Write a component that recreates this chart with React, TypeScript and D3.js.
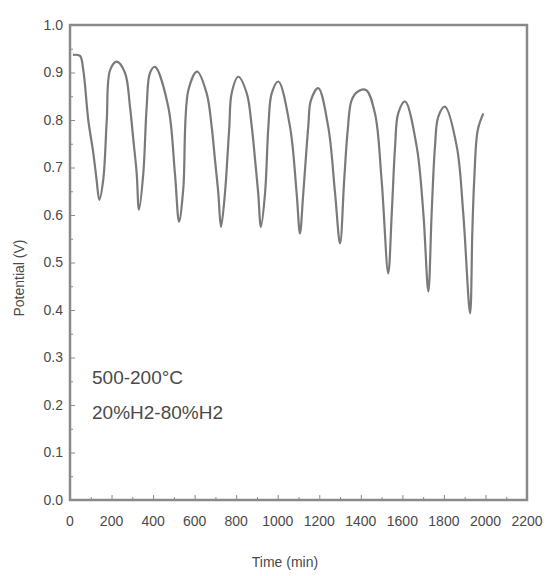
import React, { useRef, useEffect } from "react";
import * as d3 from "d3";

const WIDTH = 547;
const HEIGHT = 576;
const MARGIN = { top: 25, right: 20, bottom: 76, left: 70 };

// time (min)
const TIME = [
  14, 48, 64, 88, 112, 128, 141, 160, 177, 193, 225,
  265, 289, 305, 321, 332, 353, 369, 385, 409, 473,
  505, 525, 545, 570, 612, 658, 682, 698, 714, 727,
  746, 757, 767, 778, 810, 851, 875, 891, 906, 919,
  939, 955, 971, 1003, 1059, 1091, 1107, 1123, 1147, 1160,
  1195, 1243, 1276, 1300, 1320, 1337, 1356, 1386, 1425, 1468,
  1500, 1532, 1549, 1565, 1580, 1613, 1669, 1701, 1725,
  1741, 1757, 1773, 1805, 1862, 1893, 1926, 1937, 1946,
  1963, 1990,
];

// potential (V) at those times
const POTENTIAL = [
  0.937, 0.935, 0.905, 0.8, 0.731, 0.674, 0.632, 0.674, 0.8, 0.905, 0.923,
  0.899, 0.827, 0.758, 0.688, 0.611, 0.688, 0.827, 0.899, 0.912, 0.828,
  0.688, 0.586, 0.653, 0.863, 0.902, 0.856, 0.786, 0.716, 0.646, 0.575,
  0.646, 0.716, 0.786, 0.856, 0.891, 0.856, 0.786, 0.716, 0.646, 0.575,
  0.646, 0.786, 0.856, 0.881, 0.786, 0.646, 0.561, 0.646, 0.786, 0.842,
  0.867, 0.786, 0.646, 0.540, 0.674, 0.779, 0.842, 0.86, 0.863, 0.814,
  0.674, 0.477, 0.604, 0.744, 0.814, 0.839, 0.744, 0.604, 0.439,
  0.604, 0.744, 0.807, 0.828, 0.744, 0.604, 0.393, 0.568, 0.674,
  0.779, 0.814,
];

const X_TICKS = [0, 200, 400, 600, 800, 1000, 1200, 1400, 1600, 1800, 2000, 2200];
const Y_TICKS = [0.0, 0.1, 0.2, 0.3, 0.4, 0.5, 0.6, 0.7, 0.8, 0.9, 1.0];
const NOTES = ["500-200°C", "20%H2-80%H2"];

const AXIS_COLOR = "#8a8a8a";
const LINE_COLOR = "#7a7a7a";
const TEXT_COLOR = "#4a4a4a";
const FONT = "'Liberation Sans', Arial, sans-serif";

export default function App() {
  const svgRef = useRef<SVGSVGElement | null>(null);

  useEffect(() => {
    const svg = d3.select(svgRef.current);
    svg.selectAll("*").remove();

    const innerW = WIDTH - MARGIN.left - MARGIN.right;
    const innerH = HEIGHT - MARGIN.top - MARGIN.bottom;

    const x = d3.scaleLinear().domain([0, 2200]).range([0, innerW]);
    const y = d3.scaleLinear().domain([0, 1]).range([innerH, 0]);

    svg.append("rect").attr("width", WIDTH).attr("height", HEIGHT).attr("fill", "#fff");

    const g = svg
      .append("g")
      .attr("transform", `translate(${MARGIN.left},${MARGIN.top})`);

    // trace
    const pts: [number, number][] = TIME.map((t, i) => [t, POTENTIAL[i]]);
    const line = d3
      .line<[number, number]>()
      .x((d) => x(d[0]))
      .y((d) => y(d[1]))
      .curve(d3.curveCatmullRom.alpha(0.5));
    g.append("path")
      .datum(pts)
      .attr("d", line)
      .attr("fill", "none")
      .attr("stroke", LINE_COLOR)
      .attr("stroke-width", 2.2)
      .attr("stroke-linejoin", "round");

    // inward ticks, major + minor
    const xAxis = g
      .append("g")
      .attr("transform", `translate(0,${innerH})`)
      .call(
        d3.axisTop(x).tickValues(d3.range(0, 2201, 100)).tickSize(4).tickFormat(() => "")
      );
    xAxis.selectAll(".tick line").attr("stroke", AXIS_COLOR)
      .attr("y2", (d: any) => (d % 200 === 0 ? -5 : -3));
    xAxis.select(".domain").remove();

    const yAxis = g
      .append("g")
      .call(
        d3.axisRight(y).tickValues(d3.range(0, 1.001, 0.05)).tickSize(4).tickFormat(() => "")
      );
    yAxis.selectAll(".tick line").attr("stroke", AXIS_COLOR)
      .attr("x2", (_d: any, i: number) => (i % 2 === 0 ? 5 : 3));
    yAxis.select(".domain").remove();

    // frame
    g.append("rect")
      .attr("width", innerW)
      .attr("height", innerH)
      .attr("fill", "none")
      .attr("stroke", AXIS_COLOR)
      .attr("stroke-width", 2.5);

    // tick labels
    g.selectAll(".xl")
      .data(X_TICKS)
      .join("text")
      .attr("x", (d) => x(d))
      .attr("y", innerH + 26)
      .attr("text-anchor", "middle")
      .attr("font-size", 14)
      .attr("font-family", FONT)
      .attr("fill", TEXT_COLOR)
      .text((d) => String(d));

    g.selectAll(".yl")
      .data(Y_TICKS)
      .join("text")
      .attr("x", -7)
      .attr("y", (d) => y(d))
      .attr("dy", "0.35em")
      .attr("text-anchor", "end")
      .attr("font-size", 14)
      .attr("font-family", FONT)
      .attr("fill", TEXT_COLOR)
      .text((d) => d.toFixed(1));

    // axis titles
    svg.append("text")
      .attr("x", 285)
      .attr("y", 567)
      .attr("text-anchor", "middle")
      .attr("font-size", 14)
      .attr("font-family", FONT)
      .attr("fill", TEXT_COLOR)
      .text("Time (min)");

    svg.append("text")
      .attr("transform", "translate(24,278) rotate(-90)")
      .attr("text-anchor", "middle")
      .attr("font-size", 14)
      .attr("font-family", FONT)
      .attr("fill", TEXT_COLOR)
      .text("Potential (V)");

    // annotation
    svg.selectAll(".note")
      .data(NOTES)
      .join("text")
      .attr("x", 92)
      .attr("y", (_d, i) => 384 + i * 35)
      .attr("font-size", 19)
      .attr("font-family", FONT)
      .attr("fill", TEXT_COLOR)
      .text((d) => d);
  }, []);

  return (
    <svg
      ref={svgRef}
      width={WIDTH}
      height={HEIGHT}
      style={{ position: "absolute", left: 0, top: 0 }}
    />
  );
}
